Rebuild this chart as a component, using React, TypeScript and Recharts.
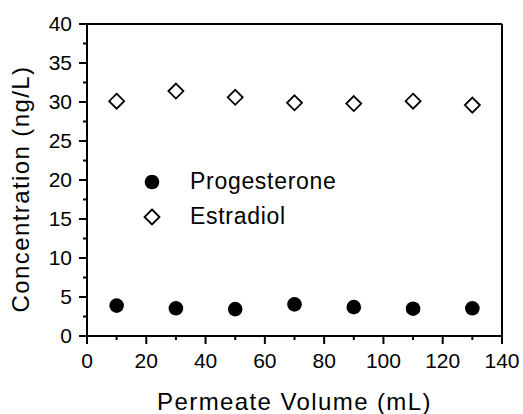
import {
  Label,
  Legend,
  ReferenceLine,
  Scatter,
  ScatterChart,
  XAxis,
  YAxis
} from "recharts";

/* data */
const volumes = [10, 30, 50, 70, 90, 110, 130];
const progesterone = [3.9, 3.55, 3.45, 4.05, 3.7, 3.5, 3.55];
const estradiol = [30.1, 31.4, 30.6, 29.9, 29.8, 30.1, 29.6];

const xTicks = [0, 10, 20, 30, 40, 50, 60, 70, 80, 90, 100, 110, 120, 130, 140];
const yTicks = [0, 2.5, 5, 7.5, 10, 12.5, 15, 17.5, 20, 22.5, 25, 27.5, 30, 32.5, 35, 37.5, 40];

const FONT = '"Liberation Sans", Arial, Helvetica, sans-serif';

const progData = volumes.map((v, i) => ({ x: v, y: progesterone[i] }));
const estrData = volumes.map((v, i) => ({ x: v, y: estradiol[i] }));

/* ── marker shapes ── */

function Dot(props: any) {
  const { cx, cy } = props;
  return <circle cx={cx} cy={cy} r={7.3} fill="#000" />;
}

function Diamond(props: any) {
  const { cx, cy } = props;
  const r = 7.5;
  return (
    <path
      d={`M${cx},${cy - r}L${cx + r},${cy}L${cx},${cy + r}L${cx - r},${cy}Z`}
      fill="#fff"
      stroke="#000"
      strokeWidth={1.8}
    />
  );
}

/* ── ticks: major ones labelled, minor ones short ── */

function XTick(props: any) {
  const { x, y, payload } = props;
  const major = payload.value % 20 === 0;
  return (
    <g>
      <line x1={x} y1={y} x2={x} y2={y + (major ? 8 : 4)} stroke="#000" strokeWidth={2} />
      {major && (
        <text x={x} y={y + 17} dy="0.71em" textAnchor="middle" fontSize={21} fill="#000" fontFamily={FONT}>
          {payload.value}
        </text>
      )}
    </g>
  );
}

function YTick(props: any) {
  const { x, y, payload } = props;
  const major = payload.value % 5 === 0;
  return (
    <g>
      <line x1={x} y1={y} x2={x - (major ? 8 : 4)} y2={y} stroke="#000" strokeWidth={2} />
      {major && (
        <text x={x - 15} y={y} dy="0.355em" textAnchor="end" fontSize={21} fill="#000" fontFamily={FONT}>
          {payload.value}
        </text>
      )}
    </g>
  );
}

function YTitle(props: any) {
  const vb = props.viewBox ?? { x: 0, y: 24, width: 87, height: 312 };
  const cx = vb.x + 20;
  const cy = vb.y + vb.height / 2 + 9;
  return (
    <text
      x={cx}
      y={cy}
      transform={`rotate(-90 ${cx} ${cy})`}
      textAnchor="middle"
      dominantBaseline="central"
      fontSize={24}
      letterSpacing={1.4}
      fill="#000"
      fontFamily={FONT}
    >
      Concentration (ng/L)
    </text>
  );
}

function XTitle(props: any) {
  const vb = props.viewBox ?? { x: 87, y: 336, width: 415, height: 78 };
  return (
    <text
      x={vb.x + vb.width / 2}
      y={vb.y + vb.height - 4}
      textAnchor="middle"
      fontSize={24}
      letterSpacing={1.4}
      fill="#000"
      fontFamily={FONT}
    >
      Permeate Volume (mL)
    </text>
  );
}

function LegendBox() {
  const rows = [
    { name: "Progesterone", icon: <circle cx={12} cy={12} r={7.3} fill="#000" /> },
    {
      name: "Estradiol",
      icon: <path d="M12,4.5L19.5,12L12,19.5L4.5,12Z" fill="#fff" stroke="#000" strokeWidth={1.8} />
    }
  ];
  return (
    <div style={{ fontFamily: FONT }}>
      {rows.map((r) => (
        <div key={r.name} style={{ display: "flex", alignItems: "center", height: 35 }}>
          <svg width={24} height={24}>{r.icon}</svg>
          <span style={{ marginLeft: 26, fontSize: 23, letterSpacing: 0.7, color: "#000" }}>{r.name}</span>
        </div>
      ))}
    </div>
  );
}

export default function App() {
  return (
    <div
      style={{
        position: "absolute",
        left: 0,
        top: 0,
        width: 523,
        height: 414,
        background: "#fff",
        fontFamily: FONT
      }}
    >
      <ScatterChart width={523} height={414} margin={{ top: 24, right: 21, bottom: 0, left: 0 }}>
        <XAxis
          type="number"
          dataKey="x"
          domain={[0, 140]}
          ticks={xTicks}
          interval={0}
          tickSize={0}
          tickMargin={0}
          tickLine={false}
          tick={XTick}
          axisLine={{ stroke: "#000", strokeWidth: 2 }}
          height={78}
        >
          <Label content={XTitle} />
        </XAxis>
        <YAxis
          type="number"
          dataKey="y"
          domain={[0, 40]}
          ticks={yTicks}
          interval={0}
          tickSize={0}
          tickMargin={0}
          tickLine={false}
          tick={YTick}
          axisLine={{ stroke: "#000", strokeWidth: 2 }}
          width={87}
        >
          <Label content={YTitle} />
        </YAxis>

        {/* box frame: top and right edges */}
        <ReferenceLine y={40} stroke="#000" strokeWidth={2} />
        <ReferenceLine x={140} stroke="#000" strokeWidth={2} />

        <Legend
          layout="horizontal"
          verticalAlign="middle"
          align="center"
          content={() => <LegendBox />}
          wrapperStyle={{ left: 140, top: 164, width: "auto" }}
        />

        <Scatter name="Progesterone" data={progData} shape={Dot} isAnimationActive={false} />
        <Scatter name="Estradiol" data={estrData} shape={Diamond} isAnimationActive={false} />
      </ScatterChart>
    </div>
  );
}
